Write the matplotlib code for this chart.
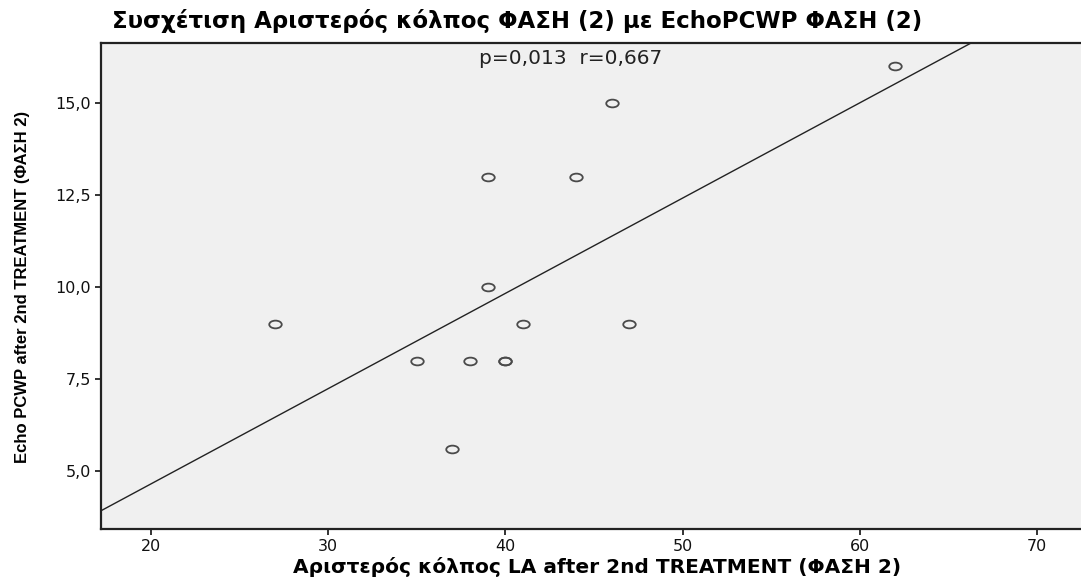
import numpy as np
import matplotlib
matplotlib.use('Agg')
from matplotlib import pyplot as plt
from matplotlib.path import Path
from matplotlib.transforms import Affine2D
from matplotlib.markers import MarkerStyle

# Data
la_after = [27, 35, 37, 38, 39, 39, 40, 40, 41, 44, 46, 47, 62]
pcwp_after = [9, 8, 5.6, 8, 10, 13, 8, 8, 9, 13, 15, 9, 16]

x_ticks = [20, 30, 40, 50, 60, 70]
x_tick_labels = ['20', '30', '40', '50', '60', '70']
y_ticks = [5.0, 7.5, 10.0, 12.5, 15.0]
y_tick_labels = ['5,0', '7,5', '10,0', '12,5', '15,0']

title = 'Συσχέτιση Αριστερός κόλπος ΦΑΣΗ (2) με EchoPCWP ΦΑΣΗ (2)'
x_label = 'Αριστερός κόλπος LA after 2nd TREATMENT (ΦΑΣΗ 2)'
y_label = 'Echo PCWP after 2nd TREATMENT (ΦΑΣΗ 2)'
stats_text = 'p=0,013  r=0,667'

W, H = 1081, 579
fig = plt.figure(figsize=(W / 100, H / 100), dpi=100)
fig.patch.set_facecolor('white')

# axes in pixel coordinates (right edge runs past the canvas)
left, right, bottom, top = 101, 1086, 529, 43
ax = fig.add_axes([left / W, 1 - bottom / H, (right - left) / W, (bottom - top) / H])
ax.set_facecolor('#f0f0f0')
ax.set_xlim(17.18, 72.77)
ax.set_ylim(3.42, 16.63)

# wide, flat open circle like the stretched SPSS marker
ellipse = Path.unit_circle().transformed(Affine2D().scale(1.0, 0.62))
marker = MarkerStyle(ellipse)
ax.plot(la_after, pcwp_after, linestyle='none', marker=marker, markersize=9,
        markerfacecolor='none', markeredgecolor='#4a4a4a', markeredgewidth=1.3, zorder=3)

# regression line across the whole axis
slope, intercept = np.polyfit(la_after, pcwp_after, 1)
xs = np.array(ax.get_xlim())
ax.plot(xs, slope * xs + intercept, color='#222222', linewidth=1.0, zorder=2)

fig.text(571 / W, 1 - 59 / H, stats_text, ha='center', va='center',
         fontsize=14.5, color='#222222', family='DejaVu Sans')

# ticks
ax.set_xticks(x_ticks)
ax.set_xticklabels(x_tick_labels)
ax.set_yticks(y_ticks)
ax.set_yticklabels(y_tick_labels)
ax.tick_params(direction='out', length=4, width=1.4, color='#333333',
               labelsize=11.5, labelcolor='#111111', pad=3)

for side in ['left', 'bottom', 'top']:
    ax.spines[side].set_color('#222222')
    ax.spines[side].set_linewidth(1.6)
ax.spines['right'].set_visible(False)

# labels
fig.text(112 / W, 1 - 21 / H, title, ha='left', va='center', fontsize=16.5,
         fontweight='bold', family='DejaVu Sans')
fig.text(597 / W, 1 - 567 / H, x_label, ha='center', va='center', fontsize=14.5,
         fontweight='bold', family='DejaVu Sans')
fig.text(23 / W, 1 - 287 / H, y_label, ha='center', va='center', rotation=90,
         fontsize=12, fontweight='bold',
         family=['Liberation Sans', 'DejaVu Sans'])

fig.savefig('out.png', dpi=100)
